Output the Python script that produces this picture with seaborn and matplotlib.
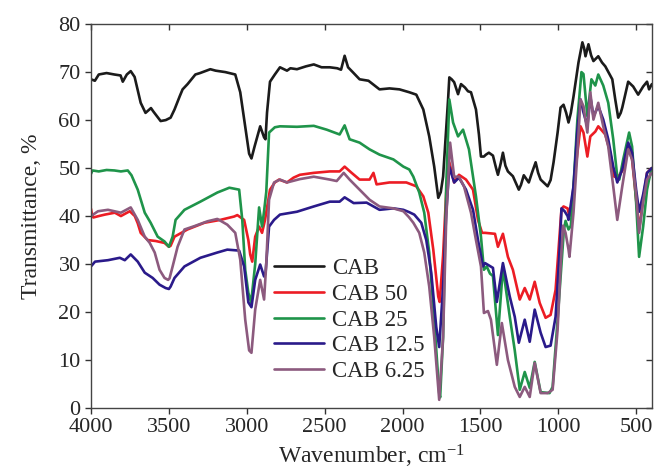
import matplotlib
matplotlib.use("Agg")
import numpy as np
import seaborn as sns
from matplotlib import lines as mlines
from matplotlib import pyplot as plt

# FTIR spectra, wavenumber (cm-1) vs transmittance (%)
wn_cab = [4000, 3975, 3950, 3900, 3850, 3810, 3796, 3770, 3745, 3720, 3681, 3650, 3636, 3615,
          3600, 3553, 3520, 3489, 3464, 3430, 3412, 3380, 3330, 3300, 3234, 3200, 3138, 3074,
          3042, 3010, 2985, 2970, 2950, 2914, 2889, 2880, 2870, 2851, 2820, 2787, 2742, 2720,
          2678, 2620, 2570, 2520, 2467, 2420, 2395, 2372, 2350, 2320, 2276, 2219, 2180, 2148,
          2084, 2020, 1957, 1912, 1867, 1829, 1797, 1771, 1755, 1740, 1708, 1700, 1685, 1669,
          1644, 1625, 1600, 1580, 1561, 1529, 1510, 1497, 1478, 1465, 1446, 1420, 1400, 1388,
          1370, 1356, 1340, 1324, 1292, 1254, 1240, 1222, 1190, 1170, 1146, 1130, 1114, 1069,
          1050, 1031, 1005, 986, 967, 950, 935, 920, 903, 871, 846, 835, 826, 807, 790, 775,
          744, 720, 699, 654, 635, 616, 600, 590, 552, 520, 488, 456, 431, 418, 400]
t_cab = [68.5, 68.2, 69.5, 69.8, 69.5, 69.3, 68.0, 69.5, 70.2, 69.0, 63.6, 61.5, 61.9, 62.5,
         61.8, 59.8, 60.0, 60.5, 62.2, 65.0, 66.4, 67.5, 69.5, 69.8, 70.6, 70.3, 70.0, 69.5,
         65.8, 58.7, 53.0, 52.0, 54.5, 58.7, 56.4, 56.0, 61.6, 68.0, 69.5, 71.0, 70.3, 70.8,
         70.6, 71.2, 71.6, 71.0, 71.0, 70.8, 70.5, 73.4, 71.0, 70.0, 68.5, 68.2, 67.2, 66.4,
         66.6, 66.4, 65.8, 65.3, 62.2, 56.6, 50.3, 43.8, 45.0, 48.2, 64.3, 68.9, 68.5, 67.9,
         65.4, 67.5, 66.8, 66.0, 65.8, 62.2, 57.0, 52.4, 52.4, 52.8, 53.2, 52.6, 50.0, 48.6,
         51.0, 53.2, 50.5, 49.3, 48.3, 45.5, 46.5, 48.5, 47.0, 49.0, 51.2, 49.0, 47.6, 46.2,
         47.5, 51.2, 57.4, 62.6, 63.2, 61.5, 59.5, 61.5, 64.9, 72.0, 76.2, 75.0, 73.3, 75.8,
         73.5, 72.3, 73.3, 72.0, 71.2, 68.5, 64.3, 60.5, 61.5, 62.6, 68.0, 67.0, 65.3, 67.0,
         68.0, 66.4, 67.5]

wn_50 = [4000, 3995, 3985, 3950, 3911, 3847, 3808, 3780, 3751, 3719, 3700, 3681, 3636, 3585,
         3528, 3500, 3489, 3464, 3381, 3272, 3170, 3081, 3061, 3017, 2990, 2978, 2965, 2946,
         2921, 2902, 2883, 2851, 2820, 2793, 2742, 2700, 2659, 2570, 2467, 2404, 2372, 2327,
         2276, 2212, 2187, 2167, 2084, 1976, 1912, 1867, 1835, 1803, 1771, 1762, 1740, 1720,
         1700, 1669, 1638, 1593, 1548, 1516, 1490, 1471, 1407, 1388, 1356, 1324, 1292, 1248,
         1216, 1184, 1152, 1120, 1082, 1050, 1018, 993, 980, 967, 941, 930, 915, 903, 878, 858,
         839, 814, 795, 763, 744, 699, 667, 641, 616, 584, 552, 527, 501, 482, 456, 431, 400]
t_50 = [41.5, 40.5, 39.7, 40.0, 40.3, 40.7, 40.0, 40.5, 41.0, 40.0, 38.5, 36.5, 35.0, 34.8,
        34.4, 33.6, 33.8, 35.7, 37.2, 38.6, 39.2, 39.9, 40.2, 39.2, 35.0, 32.0, 30.5, 35.7,
        37.8, 36.5, 39.2, 45.5, 47.0, 47.6, 47.0, 48.0, 48.6, 49.0, 49.3, 49.3, 50.3, 49.0,
        47.6, 47.6, 49.0, 46.6, 47.0, 47.0, 46.2, 44.1, 40.7, 33.0, 23.2, 22.1, 31.8, 44.9,
        51.2, 47.0, 48.6, 47.6, 45.5, 39.2, 36.5, 36.5, 36.3, 33.6, 36.3, 31.5, 28.8, 22.6,
        25.0, 22.6, 26.3, 21.9, 18.8, 19.4, 24.6, 35.7, 41.5, 42.0, 41.6, 40.0, 40.5, 46.2,
        53.2, 58.7, 57.4, 52.4, 56.6, 57.6, 58.7, 57.0, 53.2, 48.2, 48.2, 49.7, 54.5, 51.8,
        43.4, 37.2, 43.4, 49.0, 50.0]

wn_25 = [4000, 3990, 3950, 3900, 3850, 3808, 3764, 3740, 3700, 3655, 3617, 3572, 3528, 3500,
         3476, 3457, 3400, 3298, 3189, 3112, 3049, 3029, 3010, 2990, 2972, 2946, 2921, 2902,
         2889, 2875, 2857, 2820, 2787, 2678, 2570, 2487, 2404, 2372, 2340, 2276, 2212, 2148,
         2059, 1995, 1957, 1931, 1893, 1861, 1829, 1797, 1765, 1759, 1740, 1720, 1700, 1676,
         1644, 1612, 1574, 1529, 1497, 1478, 1460, 1439, 1420, 1388, 1356, 1312, 1280, 1248,
         1216, 1184, 1152, 1114, 1057, 1037, 1005, 980, 965, 954, 935, 920, 903, 878, 852, 839,
         814, 788, 763, 744, 712, 680, 648, 622, 609, 584, 546, 527, 501, 482, 456, 431, 418,
         400]
t_25 = [48.8, 49.5, 49.3, 49.6, 49.5, 49.3, 49.5, 48.5, 45.5, 40.7, 38.6, 35.7, 34.7, 33.6,
        35.7, 39.2, 41.3, 43.0, 44.9, 45.9, 45.5, 39.2, 28.8, 24.0, 22.0, 30.0, 41.8, 37.8,
        41.0, 45.0, 57.4, 58.5, 58.7, 58.6, 58.8, 58.0, 57.0, 58.9, 56.0, 55.3, 53.9, 52.8,
        51.8, 50.3, 49.7, 48.2, 44.9, 40.7, 32.4, 18.4, 3.1, 2.2, 14.8, 46.2, 64.3, 59.5,
        56.6, 58.0, 53.9, 44.1, 35.7, 28.8, 29.5, 28.0, 27.5, 15.2, 29.2, 19.0, 12.0, 3.8,
        7.5, 4.2, 9.6, 3.3, 3.1, 4.4, 18.4, 30.0, 37.0, 39.0, 37.2, 38.0, 46.2, 60.1, 70.0,
        69.6, 60.8, 68.5, 67.2, 69.5, 67.2, 63.6, 56.0, 48.2, 47.6, 51.8, 57.4, 54.5, 42.8,
        31.5, 37.8, 45.5, 47.6, 50.0]

wn_125 = [4000, 3974, 3891, 3815, 3783, 3745, 3700, 3655, 3604, 3560, 3521, 3500, 3489, 3464,
          3400, 3298, 3189, 3125, 3049, 3017, 2990, 2970, 2946, 2914, 2889, 2880, 2857, 2825,
          2787, 2678, 2570, 2467, 2404, 2372, 2314, 2231, 2148, 2059, 1995, 1957, 1925, 1880,
          1848, 1816, 1784, 1765, 1740, 1720, 1700, 1669, 1638, 1593, 1548, 1516, 1484, 1471,
          1420, 1395, 1356, 1312, 1280, 1254, 1216, 1184, 1152, 1114, 1082, 1050, 1018, 993,
          980, 960, 941, 935, 903, 878, 858, 839, 814, 795, 775, 744, 712, 680, 648, 622, 590,
          552, 527, 501, 482, 456, 431, 400]
t_125 = [29.5, 30.5, 30.8, 31.3, 30.8, 32.0, 30.5, 28.2, 27.1, 25.7, 25.0, 24.8, 25.3, 27.1,
         29.5, 31.3, 32.4, 33.0, 32.8, 29.5, 22.0, 21.0, 26.7, 29.9, 27.4, 28.0, 37.8, 39.2,
         40.3, 40.9, 42.0, 43.0, 43.0, 43.9, 42.7, 42.8, 41.3, 41.6, 41.3, 40.8, 40.3, 38.6,
         35.0, 28.2, 16.9, 12.7, 25.3, 40.5, 50.3, 47.0, 48.0, 45.5, 41.3, 35.0, 29.5, 30.2,
         29.2, 22.1, 30.2, 23.2, 19.0, 13.6, 18.4, 13.8, 20.5, 15.7, 12.7, 13.0, 19.0, 32.4,
         41.6, 41.0, 40.0, 39.2, 46.2, 58.0, 64.3, 61.6, 58.7, 64.9, 60.8, 62.9, 60.1, 56.0,
         50.3, 47.0, 49.7, 55.3, 53.2, 45.5, 40.9, 44.5, 49.0, 50.0]

wn_625 = [4000, 3955, 3891, 3808, 3745, 3700, 3655, 3623, 3591, 3560, 3528, 3505, 3496, 3476,
          3444, 3400, 3336, 3253, 3189, 3125, 3074, 3042, 3010, 2985, 2970, 2946, 2914, 2889,
          2875, 2857, 2825, 2787, 2742, 2659, 2570, 2467, 2423, 2378, 2340, 2276, 2212, 2148,
          2059, 1995, 1960, 1931, 1893, 1861, 1829, 1797, 1765, 1740, 1720, 1695, 1669, 1638,
          1606, 1561, 1529, 1497, 1478, 1452, 1433, 1395, 1363, 1324, 1280, 1248, 1216, 1184,
          1152, 1114, 1069, 1037, 1005, 985, 970, 954, 935, 929, 903, 878, 858, 839, 814, 795,
          775, 744, 712, 680, 648, 622, 590, 552, 527, 501, 482, 456, 431, 400]
t_625 = [40.0, 41.0, 41.3, 40.7, 41.8, 39.2, 35.7, 34.4, 32.4, 28.8, 27.1, 26.7, 27.0, 29.5,
         33.6, 37.2, 37.9, 38.9, 39.4, 38.2, 36.5, 30.9, 18.4, 12.0, 11.5, 20.5, 26.7, 22.6,
         30.0, 43.4, 47.0, 47.6, 47.0, 47.7, 48.2, 47.6, 47.3, 49.0, 47.6, 45.5, 43.4, 42.0,
         41.6, 41.0, 39.8, 38.6, 36.5, 32.4, 25.3, 14.8, 1.7, 14.8, 39.4, 55.3, 48.2, 48.2,
         46.2, 40.7, 35.0, 29.5, 19.8, 20.2, 18.4, 9.0, 17.7, 10.0, 4.4, 2.3, 4.4, 2.3,
         9.4, 3.1, 3.1, 3.8, 16.3, 30.0, 38.0, 36.5, 33.0, 31.5, 40.7, 53.2, 64.3, 62.9,
         57.4, 65.8, 60.1, 63.6, 58.7, 54.5, 46.2, 39.2, 46.2, 53.9, 51.8, 44.5, 36.5, 43.0,
         47.6, 49.0]

labels = ["CAB", "CAB 50", "CAB 25", "CAB 12.5", "CAB 6.25"]
colors = ["#1b1b1b", "#ec1c24", "#1f944a", "#2a1a8a", "#8c5a7e"]
series = [(wn_cab, t_cab), (wn_50, t_50), (wn_25, t_25), (wn_125, t_125), (wn_625, t_625)]

sns.set_style("ticks")
plt.rcParams['font.family'] = ['Liberation Serif', 'DejaVu Serif']
plt.rcParams['mathtext.fontset'] = 'custom'
plt.rcParams['mathtext.rm'] = 'Liberation Serif'
plt.rcParams['mathtext.it'] = 'Liberation Serif'

fig = plt.figure(figsize=(6.56, 4.71), dpi=100)
ax = fig.add_axes([0.1387, 0.1338, 0.855, 0.815])

for (x, y), lab, col in zip(series, labels, colors):
    sns.lineplot(x=np.array(x), y=np.array(y), sort=False, estimator=None,
                 color=col, linewidth=1.9, label=lab, ax=ax)

ax.set_xlim(4000, 400)
ax.set_ylim(0, 80)
ax.set_xticks(np.arange(4000, 499, -500))
ax.set_yticks(np.arange(0, 81, 10))
ax.tick_params(axis='both', labelsize=16, length=4, width=1, color='#333333',
               direction='out', top=True, right=True)
for sp in ax.spines.values():
    sp.set_visible(True)
    sp.set_color('#444444')
    sp.set_linewidth(1.0)

ax.set_xlabel("Wavenumber, cm$^{-1}$", fontsize=17, labelpad=4)
ax.set_ylabel("Transmittance, %", fontsize=17, labelpad=12)

ax.legend(loc='upper left', bbox_to_anchor=(0.326, 0.39), frameon=False,
          fontsize=16.5, handlelength=2.2, handletextpad=0.35, labelspacing=0.2,
          borderpad=0, borderaxespad=0)

# right and top ticks point into the plot, left and bottom ones out
for t in ax.yaxis.get_major_ticks():
    t.tick2line.set_marker(mlines.TICKLEFT)
for t in ax.xaxis.get_major_ticks():
    t.tick2line.set_marker(mlines.TICKDOWN)

fig.savefig("out.png", dpi=100)
